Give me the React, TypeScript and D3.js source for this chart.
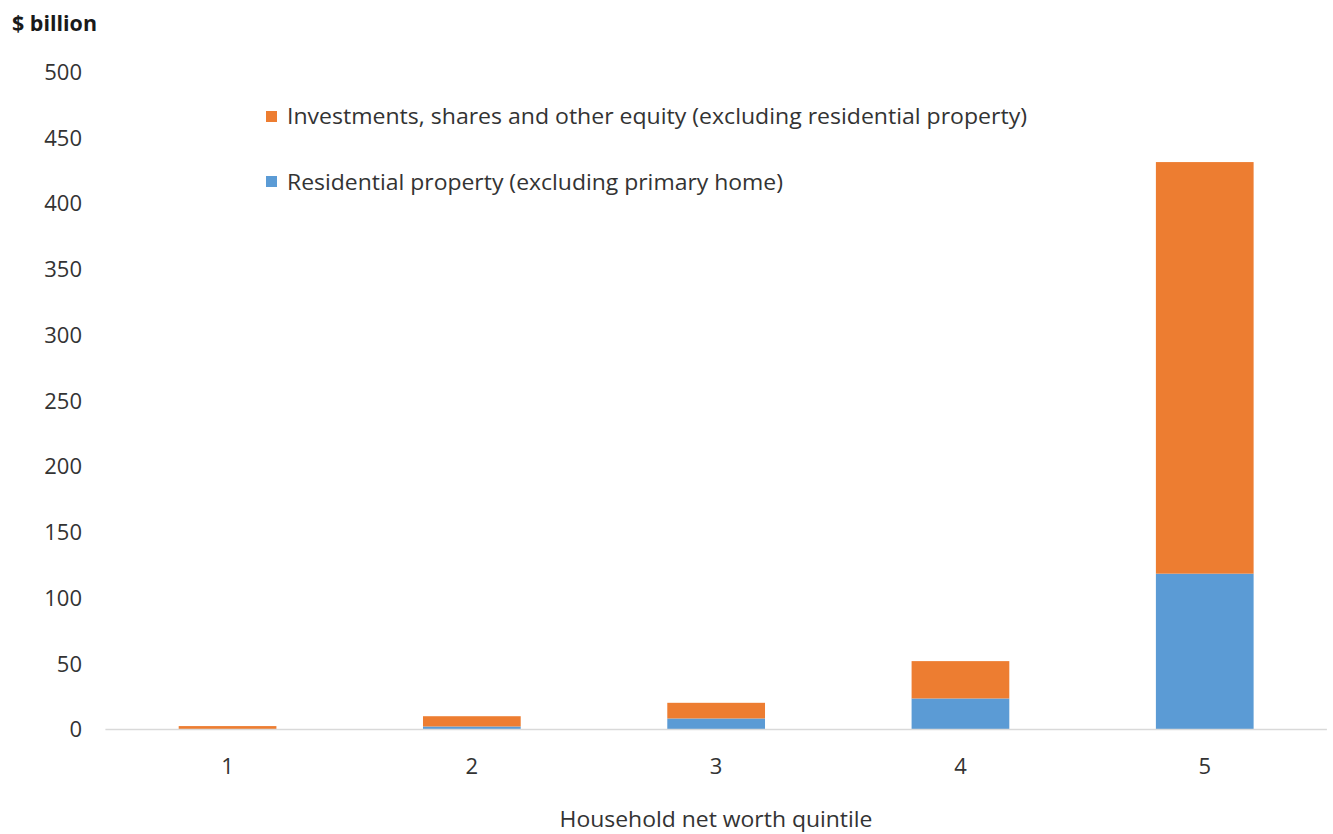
import React from "react";
import * as d3 from "d3";

const categories = ["1", "2", "3", "4", "5"];
const residential = [0.4, 2.3, 8.4, 23.6, 118.5];
const investments = [2.2, 7.8, 11.9, 28.4, 313];
const yTicks = [0, 50, 100, 150, 200, 250, 300, 350, 400, 450, 500];
const seriesNames = [
  "Investments, shares and other equity (excluding residential property)",
  "Residential property (excluding primary home)",
];
const colors = { inv: "#ED7D31", res: "#5B9BD5" };

export default function App() {
  const W = 1333, H = 834;
  const x = d3.scaleBand<string>().domain(categories).range([105.4, 1326.9]).paddingInner(0.6).paddingOuter(0.3);
  const y = d3.scaleLinear().domain([0, 500]).range([729.5, 72]);
  const font = "'Open Sans', sans-serif";
  const data = categories.map((c, i) => ({ c, res: residential[i], inv: investments[i] }));
  const stack = d3.stack<any>().keys(["res", "inv"])(data);
  return (
    <svg width={W} height={H} style={{ position: "absolute", left: 0, top: 0 }} fontFamily={font}>
      <rect width={W} height={H} fill="#fff" />
      <text x={12} y={31} fontSize={21} fontWeight="bold" fill="#1a1a1a" textLength={85} lengthAdjust="spacingAndGlyphs">$ billion</text>
      {yTicks.map((t) => (
        <text key={t} x={82} y={y(t)} dy="0.36em" textAnchor="end" fontSize={22} fill="#333">{t}</text>
      ))}
      {stack.map((s) =>
        s.map((d, i) => (
          <rect key={s.key + i} x={x(categories[i])} width={x.bandwidth()} y={y(d[1])} height={y(d[0]) - y(d[1])}
            fill={s.key === "res" ? colors.res : colors.inv} />
        ))
      )}
      <line x1={105.4} x2={1326.9} y1={729.5} y2={729.5} stroke="#D9D9D9" strokeWidth={1.5} />
      {categories.map((c) => (
        <text key={c} x={(x(c) as number) + x.bandwidth() / 2} y={774} textAnchor="middle" fontSize={22} fill="#333">{c}</text>
      ))}
      <text x={716} y={827} textAnchor="middle" fontSize={22} fill="#333" textLength={313} lengthAdjust="spacingAndGlyphs">Household net worth quintile</text>
      <rect x={266} y={111} width={11} height={11} fill={colors.inv} />
      <text x={287} y={124} fontSize={22} fill="#333" textLength={740} lengthAdjust="spacingAndGlyphs">{seriesNames[0]}</text>
      <rect x={266} y={176} width={11} height={11} fill={colors.res} />
      <text x={287} y={190} fontSize={22} fill="#333" textLength={496} lengthAdjust="spacingAndGlyphs">{seriesNames[1]}</text>
    </svg>
  );
}
